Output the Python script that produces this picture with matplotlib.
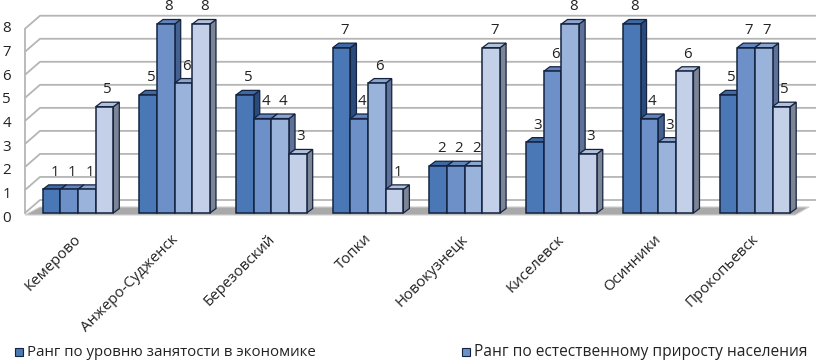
import matplotlib
matplotlib.use('Agg')
import matplotlib.pyplot as plt
from matplotlib.patches import Polygon, Rectangle
from matplotlib.transforms import ScaledTranslation
import numpy as np

plt.rcParams['font.family'] = ['Open Sans', 'DejaVu Sans']

# ---------------- data ----------------
cities = ['Кемерово', 'Анжеро-Судженск', 'Березовский', 'Топки',
          'Новокузнецк', 'Киселевск', 'Осинники', 'Прокопьевск']
rank_employment = [1, 5, 5, 7, 2, 3, 8, 5]
rank_natural_growth = [1, 8, 4, 4, 2, 6, 4, 7]
rank_series3 = [1, 5.5, 4, 5.5, 2, 8, 3, 7]
rank_series4 = [4.5, 8, 2.5, 1, 7, 2.5, 6, 4.5]
series = [rank_employment, rank_natural_growth, rank_series3, rank_series4]
legend_labels = ['Ранг по уровню занятости в экономике',
                 'Ранг по естественному приросту населения']
y_ticks = [0, 1, 2, 3, 4, 5, 6, 7, 8]

# ---------------- style ----------------
front_colors = ['#4a78b6', '#6d90c8', '#9ab3da', '#c4d0e8']
top_colors = ['#3e68a3', '#6283bb', '#8da6cf', '#b3c0da']
side_colors = ['#2b4a7c', '#45618f', '#5f7196', '#7c8596']
edge = '#14233f'

W, H = 820, 362
L, R, B, T = 25, 795, 213, 24      # axes front box in pixels
fig = plt.figure(figsize=(W / 100, H / 100), dpi=100)
ax = fig.add_axes([L / W, (H - B) / H, (R - L) / W, (B - T) / H])
n = len(cities)
ux = 96.7                            # px per category unit
x_lo = -0.548
x_hi = x_lo + (R - L) / ux
ax.set_xlim(x_lo, x_hi)
ax.set_ylim(0, 8)
uy = (B - T) / 8.0
for s in ax.spines.values():
    s.set_visible(False)
ax.set_facecolor('none')

def px(dx):
    return dx / ux

def py(dy):
    return dy / uy

# back wall gridlines
for v in y_ticks:
    f = v * 0.975
    b = f + py(13)
    ax.plot([x_lo, x_lo + px(15), x_hi + px(21)], [f, b, b],
            color='#b5b5b5', lw=1.3, clip_on=False, zorder=1,
            solid_capstyle='butt')
ax.plot([x_lo, x_lo], [0, 8 * 0.975], color='#b5b5b5', lw=1.3,
        clip_on=False, zorder=1)

# floor
floor = Polygon([(x_lo, -py(2)), (x_hi, -py(2)), (x_hi + px(14), py(6)),
                 (x_lo + px(15), py(6))], closed=True,
                facecolor='#a9a9a9', edgecolor='#d0d0d0', lw=0.8,
                clip_on=False, zorder=1.5)
ax.add_patch(floor)

# bars
group_w = 0.73
bw = group_w / len(series)
dxb, dyb = px(6), py(4.5)
x_centers = np.arange(n)
for j, vals in enumerate(series):
    lefts = x_centers - group_w / 2 + j * bw
    bars = ax.bar(lefts, vals, width=bw, align='edge',
                  color=front_colors[j], edgecolor=edge, linewidth=1.1,
                  clip_on=False)
    for i, (rect, v) in enumerate(zip(bars.patches, vals)):
        z = 3 + (i * len(series) + j) * 0.01
        rect.set_zorder(z)
        x0 = rect.get_x()
        x1 = x0 + rect.get_width()
        side = Polygon([(x1, 0), (x1 + dxb, dyb), (x1 + dxb, v + dyb), (x1, v)],
                       closed=True, facecolor=side_colors[j], edgecolor=edge,
                       lw=0.9, zorder=z - 0.005, clip_on=False)
        top = Polygon([(x0, v), (x1, v), (x1 + dxb, v + dyb), (x0 + dxb, v + dyb)],
                      closed=True, facecolor=top_colors[j], edgecolor=edge,
                      lw=0.9, zorder=z - 0.004, clip_on=False)
        ax.add_patch(side)
        ax.add_patch(top)
        lab = str(int(np.floor(v + 0.5)))
        ax.text(x0 + bw / 2 + px(3), v + py(17), lab, ha='center', va='center',
                fontsize=10.8, color='#222222', zorder=10)

# axes ticks
ax.set_yticks(y_ticks)
ax.set_yticklabels([str(t) for t in y_ticks], fontsize=10.8, color='#222222')
ax.tick_params(axis='y', length=0, pad=10)
shift = ScaledTranslation(0, -3 / 100, fig.dpi_scale_trans)
for lbl in ax.get_yticklabels():
    lbl.set_transform(lbl.get_transform() + shift)
ax.set_xticks(x_centers)
ax.set_xticklabels([])
ax.tick_params(axis='x', length=0)
for i, c in enumerate(cities):
    ax.text(i + px(1), -py(24), c, rotation=45, rotation_mode='anchor',
            ha='right', va='center', fontsize=10.8, color='#222222')

# legend (two visible entries)
leg_x = [15, 462]
leg_fs = [10.8, 11.2]
for k, lbl in enumerate(legend_labels):
    fig.patches.append(Rectangle((leg_x[k] / W, (H - 356) / H), 8 / W, 8 / H,
                                 transform=fig.transFigure,
                                 facecolor=front_colors[k], edgecolor=edge,
                                 lw=0.8))
    fig.text((leg_x[k] + 12) / W, (H - 352) / H, lbl, ha='left', va='center',
             fontsize=leg_fs[k], color='#222222')

fig.savefig('out.png', dpi=100)
